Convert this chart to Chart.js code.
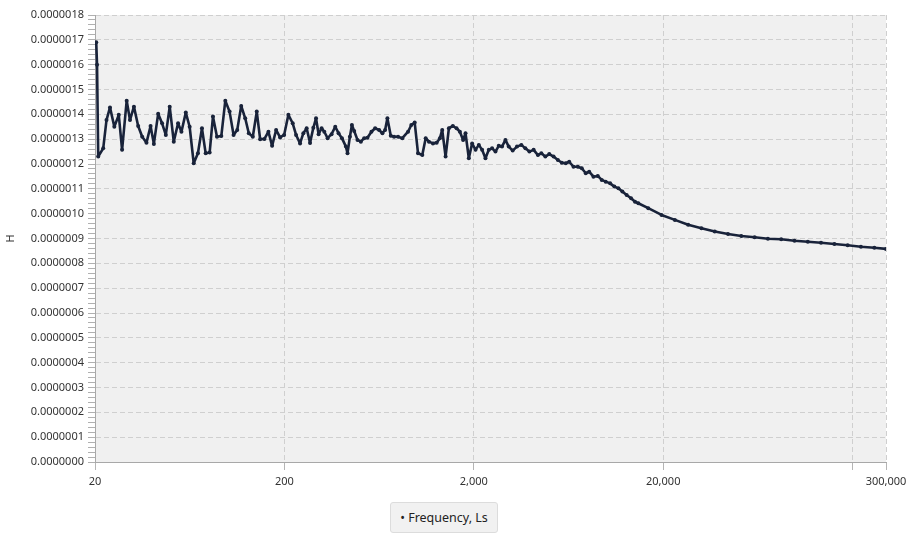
<!DOCTYPE html>
<html>
<head>
<meta charset="utf-8">
<script src="https://cdn.jsdelivr.net/npm/chart.js@4.4.1/dist/chart.umd.min.js"></script>
<style>
  html, body { margin: 0; padding: 0; background: #fff; }
  #wrap { position: relative; width: 909px; height: 535px; }
  #legend {
    position: absolute; left: 390px; top: 502px; width: 106px; height: 29px;
    background: #f1f1f1; border: 1px solid #dcdcdc; border-radius: 3px;
    font: 12.5px "Noto Sans", sans-serif; color: #222; line-height: 29px; text-align: center;
  }
</style>
</head>
<body>
<div id="wrap">
  <canvas id="chart" width="909" height="535"></canvas>
  <div id="legend">&bull; Frequency, Ls</div>
</div>
<script>
const freqHz = [
  20.3, 20.5, 20.8, 22.1, 23.0, 24.0, 25.3, 26.7, 27.8, 29.4, 30.6, 32.1, 33.8, 35.5, 37.4, 39.3,
  40.9, 43.1, 45.2, 47.3, 49.6, 52.1, 54.9, 57.2, 60.3, 63.2, 66.4, 69.9, 73.4, 76.8, 80.6, 83.9,
  88.1, 92.9, 97.5, 102.7, 107.8, 112.7, 118.3, 124.2, 129.7, 136.2, 142.9, 148.9, 156.9, 164.7,
  172.2, 180.8, 189.8, 199.3, 209.9, 221.2, 230.5, 241.9,
  251.8, 262.1, 273.1, 284.3, 293.7, 303.1, 314.3, 324.8, 338.0, 354.8, 371.1, 386.2, 402.5,
  422.4, 430.7, 443.4, 454.3, 467.1, 486.2, 506.6, 527.3, 548.8, 576.1, 602.5, 632.5, 658.3,
  680.2, 699.4, 728.7, 758.4, 796.2, 838.8,
  898.9, 935.5, 974.8, 1015, 1069, 1114, 1159, 1217, 1273, 1324, 1362, 1419, 1477, 1550, 1621,
  1688, 1756, 1808, 1882, 1959, 2042, 2125, 2212, 2304, 2399, 2497, 2602, 2708, 2818, 2937, 3057,
  3208, 3380, 3565, 3742, 3929, 4138, 4359, 4543, 4769, 5005, 5273, 5555, 5830, 6120, 6378,
  6719, 7079, 7431, 7799, 8128, 8563, 9022, 9469, 9939, 10483, 11044, 11592, 12168, 12818,
  13522, 14190, 14771,
  16672, 19592, 23044, 27076, 31812, 37424, 43966, 51656, 60752, 71392, 83882, 98666,
  115922, 136174, 160178, 188244, 221160, 260180, 300000
];

const lsHenry = [
  16.9e-7, 16.0e-7, 12.3e-7, 12.63e-7, 13.77e-7, 14.28e-7, 13.50e-7, 13.98e-7, 12.57e-7, 14.55e-7, 13.77e-7, 14.31e-7, 13.53e-7, 13.10e-7, 12.86e-7, 13.53e-7,
  12.81e-7, 14.02e-7, 13.64e-7, 13.17e-7, 14.31e-7, 12.90e-7, 13.64e-7, 13.30e-7, 14.07e-7, 13.50e-7, 12.03e-7, 12.43e-7, 13.44e-7, 12.43e-7, 12.46e-7, 13.91e-7,
  13.10e-7, 13.13e-7, 14.55e-7, 14.11e-7, 13.17e-7, 13.37e-7, 14.34e-7, 13.84e-7, 13.24e-7, 13.10e-7, 14.11e-7, 13.00e-7, 13.01e-7, 13.30e-7,
  12.73e-7, 13.37e-7, 13.07e-7, 13.17e-7, 13.98e-7, 13.64e-7, 13.17e-7, 12.83e-7,
  13.24e-7, 13.44e-7, 12.85e-7, 13.46e-7, 13.84e-7, 13.20e-7, 13.44e-7, 13.30e-7, 13.04e-7, 13.20e-7, 13.50e-7, 13.24e-7, 13.04e-7,
  12.70e-7, 12.43e-7, 13.10e-7, 13.57e-7, 13.33e-7, 12.97e-7, 12.90e-7, 13.04e-7, 13.06e-7, 13.30e-7, 13.44e-7, 13.37e-7, 13.24e-7,
  13.37e-7, 13.84e-7, 13.14e-7, 13.10e-7, 13.10e-7, 13.04e-7,
  13.30e-7, 13.57e-7, 13.67e-7, 12.43e-7, 12.36e-7, 13.04e-7, 12.90e-7, 12.83e-7, 12.86e-7, 13.04e-7, 13.37e-7, 12.30e-7, 13.44e-7, 13.53e-7, 13.44e-7,
  13.30e-7, 12.97e-7, 13.24e-7, 12.23e-7, 12.83e-7, 12.57e-7, 12.77e-7, 12.57e-7, 12.23e-7, 12.57e-7, 12.63e-7, 12.50e-7, 12.73e-7, 12.70e-7, 12.97e-7, 12.70e-7,
  12.54e-7, 12.70e-7, 12.77e-7, 12.63e-7, 12.50e-7, 12.57e-7, 12.36e-7, 12.43e-7, 12.30e-7, 12.40e-7, 12.30e-7, 12.16e-7, 12.05e-7, 12.03e-7, 12.09e-7,
  11.89e-7, 11.89e-7, 11.83e-7, 11.63e-7, 11.69e-7, 11.49e-7, 11.52e-7, 11.36e-7, 11.29e-7, 11.22e-7, 11.09e-7, 11.02e-7, 10.89e-7, 10.75e-7,
  10.62e-7, 10.48e-7, 10.42e-7,
  10.22e-7, 9.95e-7, 9.75e-7, 9.55e-7, 9.41e-7, 9.28e-7, 9.18e-7, 9.10e-7, 9.05e-7, 8.99e-7, 8.97e-7, 8.91e-7,
  8.87e-7, 8.83e-7, 8.78e-7, 8.73e-7, 8.67e-7, 8.63e-7, 8.58e-7
];

const xTickValues = [20, 200, 2000, 20000, 200000, 300000];
const xTickHidden = [200000];
const yMax = 0.0000018;
const yMajorCount = 18;
const yMinorPerMajor = 5;

const tickFont = { family: '"Noto Sans", sans-serif', size: 11 };

const plotBg = {
  id: 'plotBg',
  beforeDraw(chart) {
    const a = chart.chartArea;
    const ctx = chart.ctx;
    ctx.save();
    ctx.fillStyle = '#f0f0f0';
    ctx.fillRect(a.left, a.top, a.right - a.left, a.bottom - a.top);
    ctx.restore();
  }
};

new Chart(document.getElementById('chart'), {
  type: 'line',
  data: {
    datasets: [{
      label: 'Frequency, Ls',
      data: freqHz.map((f, i) => ({ x: f, y: lsHenry[i] })),
      borderColor: '#19233a',
      backgroundColor: '#19233a',
      borderWidth: 2.6,
      borderJoinStyle: 'round',
      pointRadius: 2,
      pointBorderWidth: 0,
      tension: 0,
      fill: false
    }]
  },
  options: {
    responsive: false,
    animation: false,
    layout: { padding: { top: 15, right: 23, left: 0, bottom: 0 } },
    plugins: { legend: { display: false }, tooltip: { enabled: false } },
    scales: {
      x: {
        type: 'logarithmic',
        min: 20,
        max: 300000,
        afterBuildTicks: (s) => { s.ticks = xTickValues.map(v => ({ value: v })); },
        afterFit: (s) => { s.height = 73; s.paddingRight = 0; s.paddingLeft = 0; },
        ticks: {
          autoSkip: false,
          maxRotation: 0,
          color: '#333',
          font: tickFont,
          padding: 5,
          callback: (v) => xTickHidden.includes(v) ? '' : Number(v).toLocaleString('en-US')
        },
        grid: {
          color: (c) => c.index === 0 ? 'transparent' : '#cfcfcf',
          tickColor: '#b5b5b5',
          tickLength: 8,
          lineWidth: 1
        },
        border: { color: '#a8a8a8', dash: [5, 3] }
      },
      y: {
        min: 0,
        max: yMax,
        afterBuildTicks: (s) => {
          const n = yMajorCount * yMinorPerMajor;
          const t = [];
          for (let i = 0; i <= n; i++) t.push({ value: yMax * i / n });
          s.ticks = t;
        },
        afterFit: (s) => { s.width = 95; },
        ticks: {
          autoSkip: false,
          color: '#333',
          font: tickFont,
          padding: 4,
          callback: (v, i) => i % yMinorPerMajor === 0 ? (i / yMinorPerMajor / 1e7).toFixed(7) : ''
        },
        grid: {
          color: (c) => (c.index % yMinorPerMajor === 0 && c.index > 0) ? '#cfcfcf' : 'transparent',
          tickColor: '#b0b0b0',
          tickLength: 7,
          lineWidth: 1
        },
        border: { color: '#a8a8a8', dash: [5, 3] },
        title: {
          display: true,
          text: 'H',
          color: '#333',
          font: { family: '"Noto Sans", sans-serif', size: 11 },
          padding: { top: 4, bottom: 0 }
        }
      }
    }
  },
  plugins: [plotBg]
});
</script>
</body>
</html>
